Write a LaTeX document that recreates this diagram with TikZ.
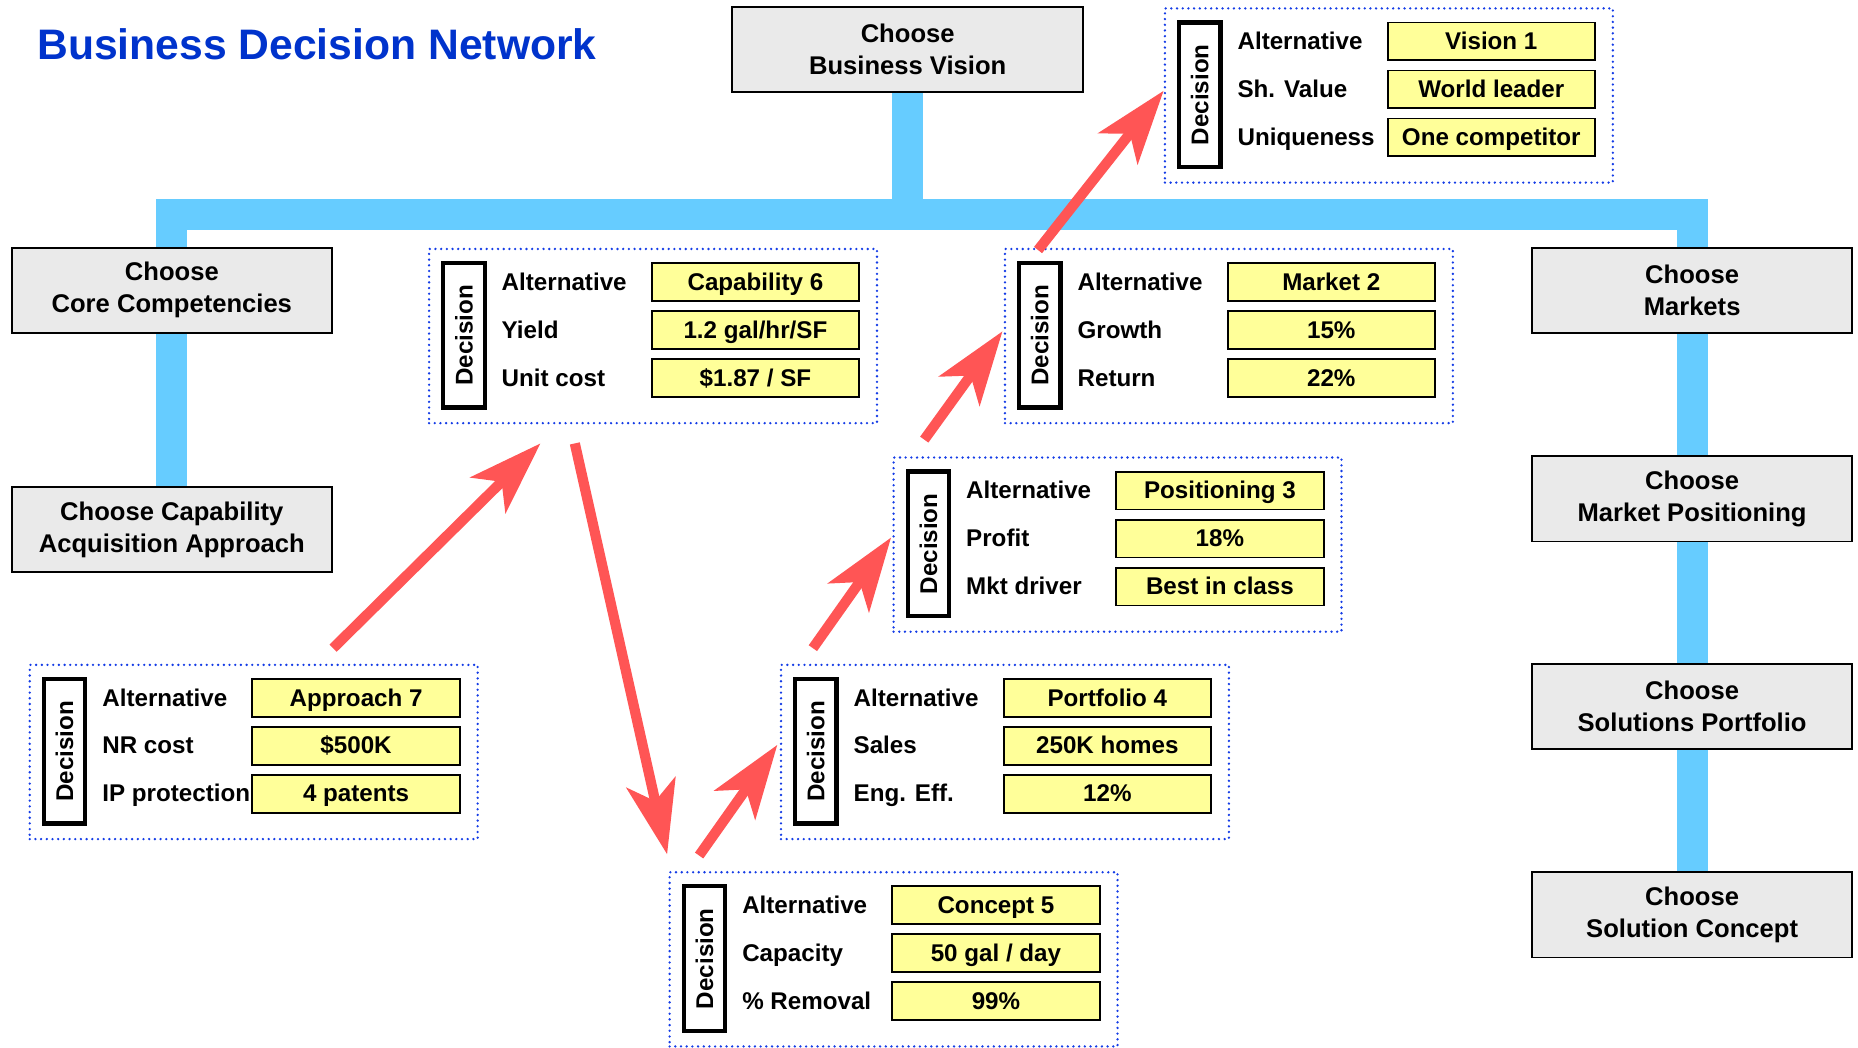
\documentclass[tikz,border=0pt]{standalone}
\usepackage{fontspec}
\setmainfont{Liberation Sans}
\usepackage{graphicx}
\usepackage{tikz}
\usetikzlibrary{arrows.meta,calc,positioning}
\definecolor{titleblue}{RGB}{0,51,204}
\definecolor{dotblue}{RGB}{20,60,230}
\definecolor{barblue}{RGB}{102,204,255}
\definecolor{boxgray}{RGB}{234,234,234}
\definecolor{valyellow}{RGB}{255,255,153}
\definecolor{arrowred}{RGB}{255,85,85}
\tikzset{
    choosebox/.style={draw=black,line width=0.8pt,fill=boxgray,minimum width=135pt,minimum height=36pt,
        align=center,inner sep=2pt,font=\fontsize{10.8}{13.5}\selectfont\bfseries},
    panel/.style={draw=dotblue,line width=1.1pt,line cap=round,dash pattern=on 0pt off 2.4pt,anchor=north west,
        minimum width=189pt,minimum height=73.5pt,inner sep=0pt},
    decbox/.style={draw=black,line width=1.8pt,fill=white,minimum width=17.5pt,minimum height=61pt,
        inner sep=0pt,font=\fontsize{10.2}{12}\selectfont\bfseries},
    rowlabel/.style={anchor=west,inner sep=0pt,text height=7.4pt,text depth=0.6pt,
        font=\fontsize{10.2}{12}\selectfont\bfseries},
    valbox/.style={draw=black,line width=0.8pt,fill=valyellow,minimum width=87.5pt,minimum height=16pt,
        inner sep=0pt,text height=7.4pt,text depth=0.6pt,font=\fontsize{10.2}{12}\selectfont\bfseries},
    bar/.style={draw=barblue,line width=13pt,line join=miter},
    redarrow/.style={draw=arrowred,line width=4.3pt,
        -{Stealth[length=31pt,width=21pt,inset=8pt,fill=arrowred]}}
}
% one decision panel: name, top left corner, three labels, three values
\newcommand{\decpanel}[8]{%
    \begin{scope}[shift={(#2)}]
        \node[panel] (#1) at (0,0) {};
        \node[decbox] (#1-d) at (30.5,74) {\rotatebox{90}{Decision}};
        \node[rowlabel] (#1-l1) at (62,29) {#3};
        \node[rowlabel] (#1-l2) at (62,69.5) {#4};
        \node[rowlabel] (#1-l3) at (62,110) {#5};
        \node[valbox] (#1-v1) at (276.5,29) {#6};
        \node[valbox] (#1-v2) at (276.5,69.5) {#7};
        \node[valbox] (#1-v3) at (276.5,110) {#8};
    \end{scope}}

\begin{document}
\begin{tikzpicture}[x=0.5pt,y=-0.5pt]
    \useasboundingbox (0,0) rectangle (1568,884);

    % 标题
    \node[anchor=west,inner sep=0pt,text=titleblue,font=\fontsize{18}{22}\selectfont\bfseries]
        (title) at (31,37) {Business Decision Network};

    % 决策节点
    \node[choosebox,minimum width=148pt] (bVision) at (766,42) {Choose\\Business Vision};
    \node[choosebox] (bCore) at (145,245) {Choose\\Core Competencies};
    \node[choosebox] (bAcq) at (145,447) {Choose Capability\\Acquisition Approach};
    \node[choosebox] (bMarkets) at (1428,245) {Choose\\Markets};
    \node[choosebox] (bPosition) at (1428,421) {Choose\\Market Positioning};
    \node[choosebox] (bPortfolio) at (1428,596) {Choose\\Solutions Portfolio};
    \node[choosebox] (bConcept) at (1428,772) {Choose\\Solution Concept};

    % 蓝色连线
    \coordinate (hub) at (766,181);
    \draw[bar] (bCore.north) |- (hub) -| (bMarkets.north);
    \draw[bar] (bVision.south) -- (hub);
    \draw[bar] (bCore.south) -- (bAcq.north);
    \draw[bar] (bMarkets.south) -- (bPosition.north);
    \draw[bar] (bPosition.south) -- (bPortfolio.north);
    \draw[bar] (bPortfolio.south) -- (bConcept.north);

    % 方案面板
    \decpanel{pVision}{982,6}{Alternative}{Sh. Value}{Uniqueness}{Vision 1}{World leader}{One competitor}
    \decpanel{pCapability}{361,209}{Alternative}{Yield}{Unit cost}{Capability 6}{1.2 gal/hr/SF}{\$1.87 / SF}
    \decpanel{pMarket}{847,209}{Alternative}{Growth}{Return}{Market 2}{15\%}{22\%}
    \decpanel{pPositioning}{753,385}{Alternative}{Profit}{Mkt driver}{Positioning 3}{18\%}{Best in class}
    \decpanel{pApproach}{24,560}{Alternative}{NR cost}{IP protection}{Approach 7}{\$500K}{4 patents}
    \decpanel{pPortfolio}{658,560}{Alternative}{Sales}{Eng. Eff.}{Portfolio 4}{250K homes}{12\%}
    \decpanel{pConcept}{564,735}{Alternative}{Capacity}{\% Removal}{Concept 5}{50 gal / day}{99\%}

    % 红色箭头
    \draw[redarrow] ($(pApproach.north)+(67,-13)$) -- ($(pCapability.south)+(-95,16)$);
    \draw[redarrow] ($(pCapability.south)+(-66,16)$) -- ($(pConcept.north west)+(-1,-14)$);
    \draw[redarrow] ($(pConcept.north west)+(26,-13)$) -- ($(pPortfolio.west)+(-2,-6)$);
    \draw[redarrow] ($(pPortfolio.north west)+(28,-13)$) -- ($(pPositioning.west)+(-1,-6)$);
    \draw[redarrow] ($(pPositioning.north west)+(27,-14)$) -- ($(pMarket.west)+(-1,-4)$);
    \draw[redarrow] ($(pMarket.north west)+(29,2)$) -- ($(pVision.west)+(0,-4)$);
\end{tikzpicture}
\end{document}
